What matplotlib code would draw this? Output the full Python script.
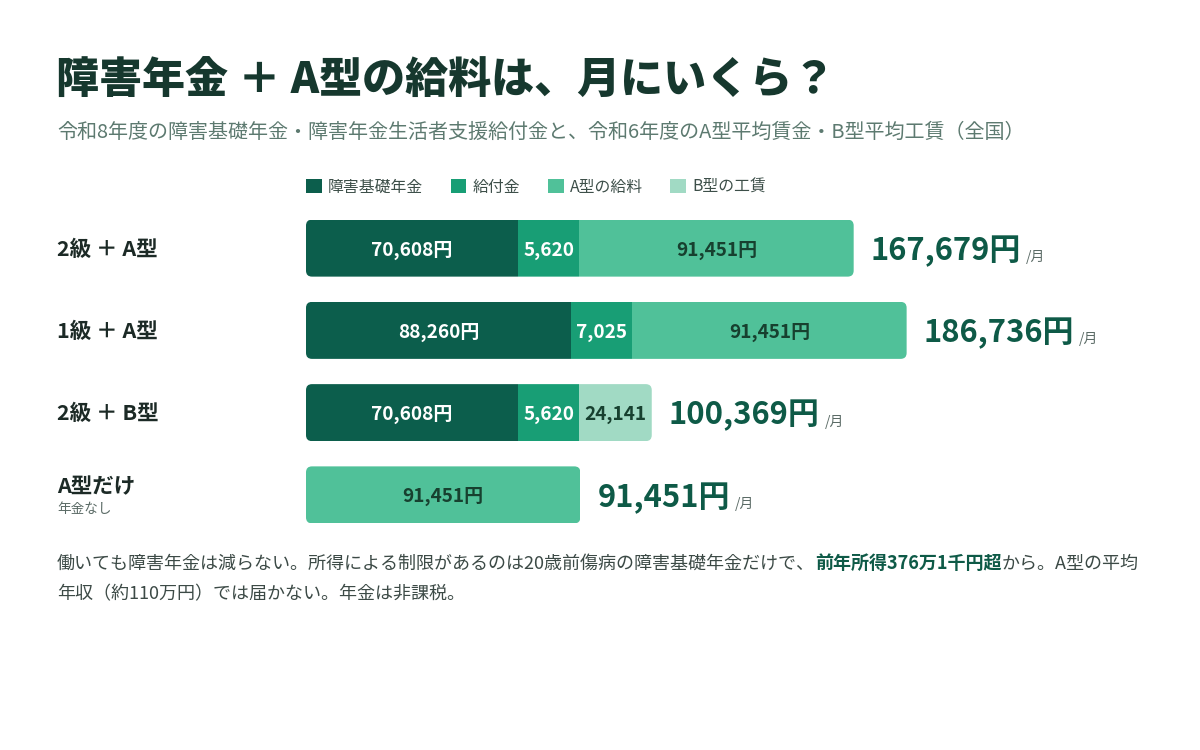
import matplotlib
matplotlib.use("Agg")
import matplotlib.pyplot as plt
from matplotlib.patches import FancyBboxPatch, Patch

plt.rcParams['font.family'] = ['Noto Sans CJK JP', 'DejaVu Sans']

# ---------------- data ----------------
categories = ["2級 ＋ A型", "1級 ＋ A型", "2級 ＋ B型", "A型だけ"]
sublabels = ["", "", "", "年金なし"]
series_names = ["障害基礎年金", "給付金", "A型の給料", "B型の工賃"]
kiso = [70608, 88260, 70608, 0]
kyufu = [5620, 7025, 5620, 0]
a_wage = [91451, 91451, 0, 91451]
b_wage = [0, 0, 24141, 0]
totals = [167679, 186736, 100369, 91451]
series_suffix = ["円", "", "円", ""]

title = "障害年金 ＋ A型の給料は、月にいくら？"
subtitle = "令和8年度の障害基礎年金・障害年金生活者支援給付金と、令和6年度のA型平均賃金・B型平均工賃（全国）"
note_line1 = ["働いても障害年金は減らない。所得による制限があるのは20歳前傷病の障害基礎年金だけで、",
              "前年所得376万1千円超",
              "から。A型の平均"]
note_line2 = "年収（約110万円）では届かない。年金は非課税。"

# ---------------- style ----------------
W, H = 1200, 750
colors = ["#0c5e4c", "#189e75", "#50c199", "#a1dac4"]
label_colors = ["white", "white", "#17402f", "#17402f"]
TITLE_C = "#16382e"
SUB_C = "#5d7a70"
ROW_C = "#1c2a26"
TOTAL_C = "#0e5a47"
GRAY = "#5b6b66"
NOTE_C = "#3c4a46"

PX_PER_YEN = 0.003
MIN_SEG = 20500      # minimum drawn width of a segment (in yen-scale units)
AX_L, AX_R, AX_T, AX_B = 306, 1150, 207, 536
BAR_PX = 57
ROUND_PX = 6

fig = plt.figure(figsize=(W / 100, H / 100), dpi=100)
fig.patch.set_facecolor("white")

bg = fig.add_axes([0, 0, 1, 1])
bg.axis("off")
bg.set_xlim(0, 1)
bg.set_ylim(0, 1)

def fx(x):
    return x / W

def fy(y):
    return 1 - y / H

# title / subtitle
bg.text(fx(56), fy(81), title, fontsize=31, fontweight="heavy", color=TITLE_C,
        va="center", ha="left")
bg.text(fx(57), fy(132), subtitle, fontsize=14.45, color=SUB_C, va="center", ha="left")

# legend
handles = [Patch(facecolor=c, edgecolor="none") for c in colors]
fig.legend(handles, series_names, loc="center left",
           bbox_to_anchor=(fx(306), fy(187)), bbox_transform=fig.transFigure,
           ncol=4, frameon=False, fontsize=11.4, handlelength=1.0, handleheight=1.0,
           handletextpad=0.4, columnspacing=1.72, borderpad=0, borderaxespad=0,
           labelcolor="#3d4f49")

# bar axes
ax = fig.add_axes([fx(AX_L), fy(AX_B), (AX_R - AX_L) / W, (AX_B - AX_T) / H])
ax.set_xlim(0, (AX_R - AX_L) / PX_PER_YEN)
n = len(categories)
ax.set_ylim(n - 0.5, -0.5)
ax.axis("off")

y_units_per_px = n / (AX_B - AX_T)
x_units_per_px = 1 / PX_PER_YEN
bh = BAR_PX * y_units_per_px
m_aspect = y_units_per_px / x_units_per_px

series = [kiso, kyufu, a_wage, b_wage]
for i in range(n):
    left = 0
    rects = []
    for s, vals in enumerate(series):
        v = vals[i]
        if v <= 0:
            continue
        w = max(v, MIN_SEG)
        r = ax.barh(i, w, left=left, height=bh, color=colors[s], linewidth=0)[0]
        rects.append(r)
        ax.annotate(f"{v:,}{series_suffix[s]}", xy=(left + w / 2, i), xytext=(0, -2),
                    textcoords="offset pixels", ha="center", va="center",
                    fontsize=13.7, fontweight="bold", color=label_colors[s])
        left += w
    clip = FancyBboxPatch((0, i - bh / 2), left, bh,
                          boxstyle=f"round,pad=0,rounding_size={ROUND_PX * x_units_per_px}",
                          mutation_aspect=m_aspect, transform=ax.transData,
                          facecolor="none", edgecolor="none")
    ax.add_patch(clip)
    for r in rects:
        r.set_clip_path(clip)
    t = ax.annotate(f"{totals[i]:,}円", xy=(left, i), xytext=(17, -3),
                    textcoords="offset pixels", ha="left", va="center",
                    fontsize=22.3, fontweight="bold", color=TOTAL_C,
                    annotation_clip=False)
    ax.annotate("/月", xy=(1, 0), xycoords=t, xytext=(5, 3),
                textcoords="offset pixels", ha="left", va="bottom",
                fontsize=10, color=GRAY, annotation_clip=False)

    # row labels
    yc = AX_T + (i + 0.5) * (AX_B - AX_T) / n
    if sublabels[i]:
        bg.text(fx(57), fy(yc - 8), categories[i], fontsize=15.5, fontweight="bold",
                color=ROW_C, va="center", ha="left")
        bg.text(fx(57), fy(yc + 14), sublabels[i], fontsize=9.8, color=GRAY,
                va="center", ha="left")
    else:
        bg.text(fx(57), fy(yc + 1), categories[i], fontsize=15.5, fontweight="bold",
                color=ROW_C, va="center", ha="left")

# footnote
t1 = bg.text(fx(57), fy(564), note_line1[0], fontsize=13, color=NOTE_C, va="center", ha="left")
t2 = bg.annotate(note_line1[1], xy=(1, 0), xycoords=t1, ha="left", va="bottom",
                 fontsize=13, fontweight="bold", color=TOTAL_C)
bg.annotate(note_line1[2], xy=(1, 0), xycoords=t2, ha="left", va="bottom",
            fontsize=13, color=NOTE_C)
bg.text(fx(57), fy(594), note_line2, fontsize=13, color=NOTE_C, va="center", ha="left")

fig.savefig("out.png", dpi=100, facecolor="white")
